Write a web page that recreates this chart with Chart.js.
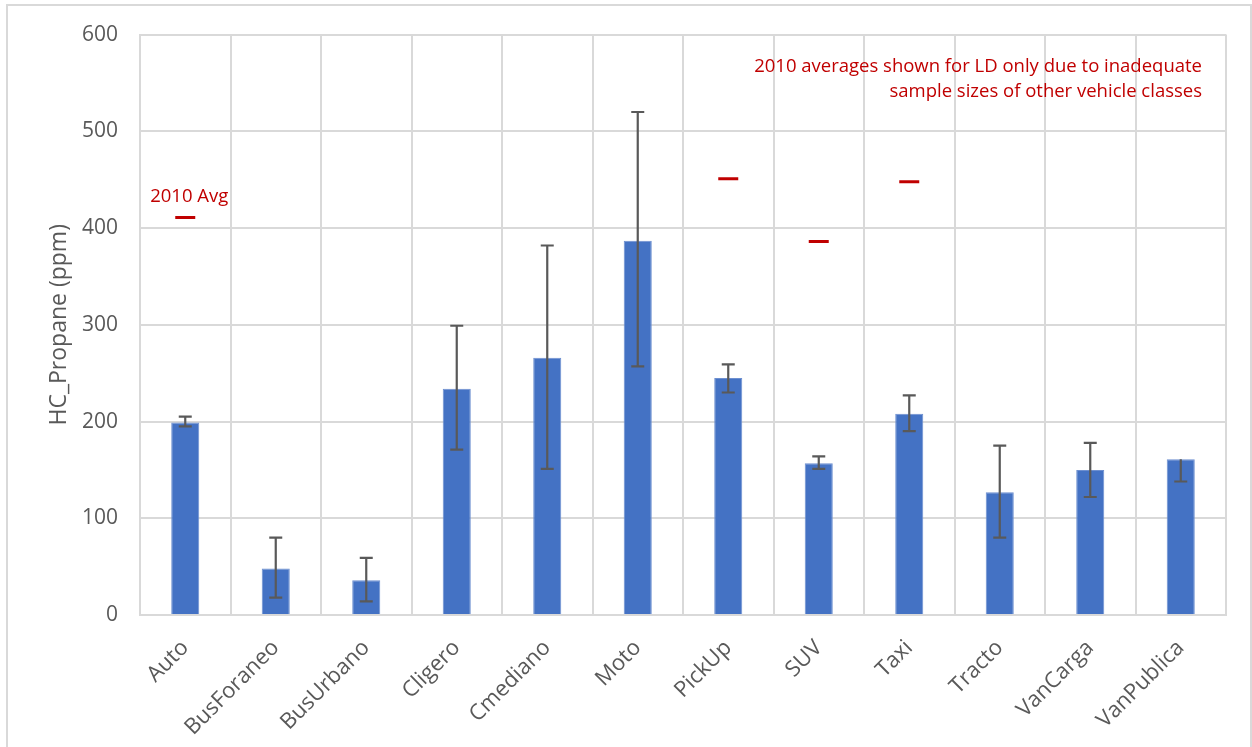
<!DOCTYPE html>
<html>
<head>
<meta charset="utf-8">
<script src="https://cdn.jsdelivr.net/npm/chart.js@4.4.1/dist/chart.umd.min.js"></script>
<style>
  html, body { margin: 0; padding: 0; background: #ffffff; }
  #wrap { width: 1252px; height: 747px; position: relative; }
</style>
</head>
<body>
<div id="wrap"><canvas id="chart" width="1252" height="747"></canvas></div>
<script>
// Vehicle classes on the x axis
const categories = ['Auto', 'BusForaneo', 'BusUrbano', 'Cligero', 'Cmediano', 'Moto',
                    'PickUp', 'SUV', 'Taxi', 'Tracto', 'VanCarga', 'VanPublica'];
// Mean HC (propane, ppm) per class
const meanHC = [199, 48, 36, 234, 266, 387, 245, 157, 208, 127, 150, 161];
// Error bar limits (upper / lower)
const errHigh = [205, 80, 59, 299, 382, 520, 259, 164, 227, 175, 178, 161];
const errLow  = [195, 18, 14, 171, 151, 257, 230, 151, 190, 80, 122, 138];
// 2010 averages, light-duty classes only
const avg2010 = [411, null, null, null, null, null, 451, 386, 448, null, null, null];
// Y axis ticks
const yTicks = [0, 100, 200, 300, 400, 500, 600];

const FONT = "'Open Sans', 'DejaVu Sans', sans-serif";
const GRID = '#d9d9d9';
const TEXT = '#595959';
const RED = '#C00000';

const framePlugin = {
  id: 'frame',
  beforeDraw(chart) {
    const ctx = chart.ctx;
    ctx.save();
    ctx.fillStyle = '#ffffff';
    ctx.fillRect(0, 0, chart.width, chart.height);
    ctx.strokeStyle = GRID;
    ctx.lineWidth = 2;
    ctx.strokeRect(7, 5, chart.width - 8, chart.height + 10);
    ctx.restore();
  }
};

const errorBarPlugin = {
  id: 'errorBars',
  afterDatasetsDraw(chart) {
    const meta = chart.getDatasetMeta(0);
    const y = chart.scales.y;
    const ctx = chart.ctx;
    ctx.save();
    ctx.strokeStyle = '#595959';
    ctx.lineWidth = 2.2;
    const cap = 6.5;
    meta.data.forEach((bar, i) => {
      const x = bar.x;
      const yHi = y.getPixelForValue(errHigh[i]);
      const yLo = y.getPixelForValue(errLow[i]);
      ctx.beginPath();
      ctx.moveTo(x, yHi);
      ctx.lineTo(x, yLo);
      if (errHigh[i] !== meanHC[i]) {
        ctx.moveTo(x - cap, yHi);
        ctx.lineTo(x + cap, yHi);
      }
      if (errLow[i] !== meanHC[i]) {
        ctx.moveTo(x - cap, yLo);
        ctx.lineTo(x + cap, yLo);
      }
      ctx.stroke();
    });
    ctx.restore();
  }
};

const notePlugin = {
  id: 'notes',
  afterDraw(chart) {
    const ctx = chart.ctx;
    const y = chart.scales.y;
    const x = chart.scales.x;
    ctx.save();
    ctx.fillStyle = RED;
    ctx.font = "18.5px " + FONT;
    ctx.textBaseline = 'alphabetic';
    ctx.textAlign = 'center';
    ctx.fillText('2010 Avg', x.getPixelForValue(0) + 4, y.getPixelForValue(avg2010[0]) - 15);
    ctx.textAlign = 'right';
    ctx.fillText('2010 averages shown for LD only due to inadequate', 1202, 72);
    ctx.fillText('sample sizes of other vehicle classes', 1202, 97);
    ctx.restore();
  }
};

new Chart(document.getElementById('chart'), {
  data: {
    labels: categories,
    datasets: [
      {
        type: 'bar',
        label: 'HC_Propane',
        data: meanHC,
        backgroundColor: '#4472C4',
        borderColor: '#6d8fd0',
        borderWidth: 1,
        categoryPercentage: 1.0,
        barPercentage: 0.31,
        order: 2
      },
      {
        type: 'line',
        label: '2010 Avg',
        data: avg2010,
        showLine: false,
        pointStyle: 'line',
        pointRadius: 10,
        pointHoverRadius: 10,
        pointBorderWidth: 3,
        pointBorderColor: RED,
        pointBackgroundColor: RED,
        order: 1
      }
    ]
  },
  options: {
    responsive: false,
    animation: false,
    events: [],
    layout: { padding: { top: 34, right: 26, bottom: 0, left: 0 } },
    plugins: {
      legend: { display: false },
      tooltip: { enabled: false },
      title: { display: false }
    },
    scales: {
      x: {
        type: 'category',
        offset: true,
        grid: { color: GRID, lineWidth: 2, offset: true, drawTicks: false },
        border: { color: GRID, width: 2 },
        ticks: {
          color: TEXT,
          font: { family: FONT, size: 22 },
          minRotation: 45,
          maxRotation: 45,
          padding: 20,
          autoSkip: false
        },
        afterFit(scale) { scale.height = 132; }
      },
      y: {
        min: 0,
        max: 600,
        afterBuildTicks(scale) { scale.ticks = yTicks.map(v => ({ value: v })); },
        grid: { color: GRID, lineWidth: 2, drawTicks: false },
        border: { color: GRID, width: 2 },
        ticks: {
          color: TEXT,
          font: { family: FONT, size: 21 },
          padding: 22
        },
        title: {
          display: true,
          text: 'HC_Propane (ppm)',
          color: TEXT,
          font: { family: FONT, size: 23 },
          padding: { top: 46, bottom: 0 }
        },
        afterFit(scale) { scale.width = 140; }
      }
    }
  },
  plugins: [framePlugin, errorBarPlugin, notePlugin]
});
</script>
</body>
</html>
